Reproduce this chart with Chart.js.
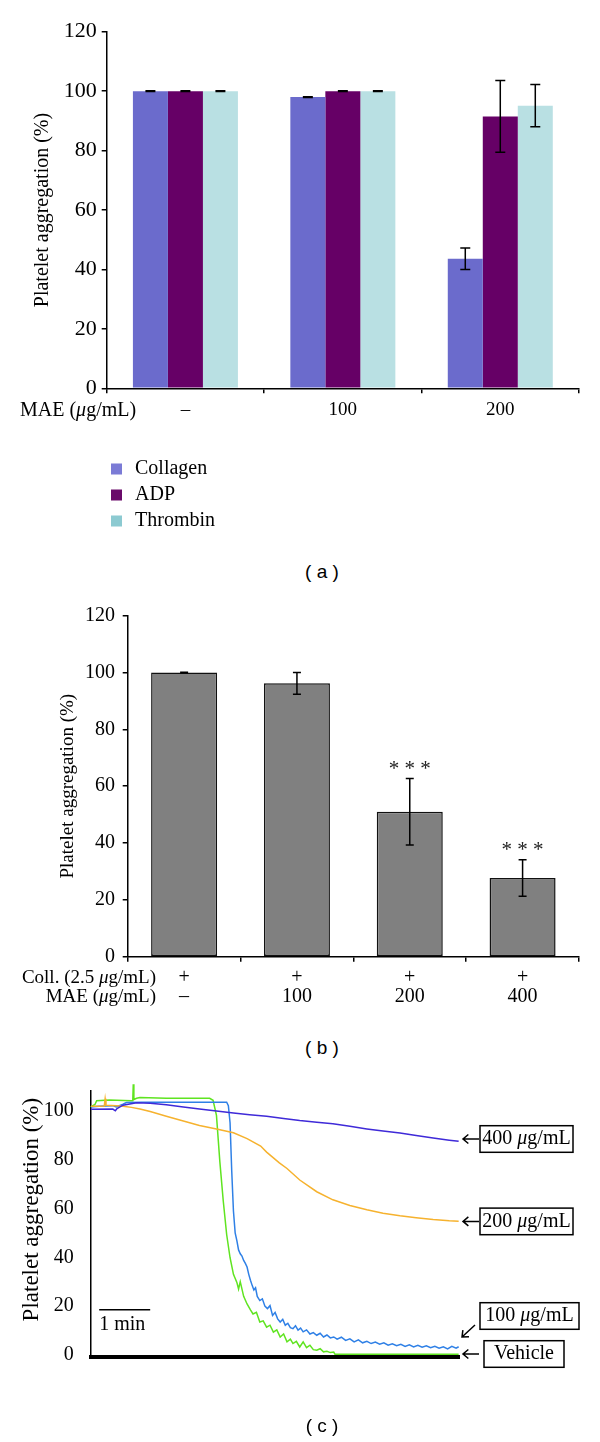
<!DOCTYPE html>
<html>
<head>
<meta charset="utf-8">
<script src="https://cdn.jsdelivr.net/npm/chart.js@4.4.0/dist/chart.umd.min.js"></script>
<style>
  body { margin: 0; background: #fff; }
  #page { position: relative; width: 600px; height: 1442px; overflow: hidden; }
  canvas { position: absolute; left: 0; }
  .panel { position: absolute; left: 272px; width: 100px; text-align: center;
           font: 19px 'Liberation Sans', Arial, sans-serif; line-height: 20px; color: #000; }
</style>
</head>
<body>
<div id="page">
  <canvas id="chartA" width="600" height="545" style="top:0"></canvas>
  <canvas id="chartB" width="600" height="420" style="top:590px"></canvas>
  <canvas id="chartC" width="600" height="372" style="top:1070px"></canvas>
  <div class="panel" style="top:562px">( a )</div>
  <div class="panel" style="top:1038px">( b )</div>
  <div class="panel" style="top:1416px">( c )</div>
</div>
<script>
const SERIF = "'Liberation Serif', 'Times New Roman', serif";

// (a) agonists vs MAE dose
const doseA = ['\u2013', '100', '200'];
const collagen = [100, 98.0, 43.6];
const collagenErr = [0.15, 0.15, 3.6];
const adp = [100, 100, 91.5];
const adpErr = [0.15, 0.15, 12.1];
const thrombin = [100, 100, 95.1];
const thrombinErr = [0.15, 0.15, 7.1];
const yTicksAB = [0, 20, 40, 60, 80, 100, 120];

// (b) collagen + MAE
const collRow = ['+', '+', '+', '+'];
const doseB = ['\u2013', '100', '200', '400'];
const aggB = [100, 96.2, 51.0, 27.7];
const aggBErr = [0.1, 3.8, 11.7, 6.4];
const starsB = ['', '', '***', '***'];

// (c) aggregation traces, time in seconds
const t400 = [0, 26, 29, 31, 38, 54, 70, 89, 109, 128, 148, 168, 187, 207, 227, 246, 266, 285, 305, 325, 344, 364, 383, 403, 422, 433];
const v400 = [100.5, 100.6, 99.9, 100.8, 102.2, 103.2, 103.0, 102.4, 101.5, 100.6, 99.8, 99.0, 98.3, 97.7, 96.8, 95.9, 95.2, 94.6, 93.6, 92.5, 91.6, 90.8, 89.8, 88.8, 87.9, 87.4];

const t200 = [0, 10, 16, 17, 18, 30, 38, 48, 58, 70, 89, 109, 128, 148, 168, 184, 200, 207, 222, 231, 246, 266, 285, 305, 325, 344, 364, 383, 403, 422, 433];
const v200 = [101.8, 101.8, 101.9, 104.8, 102.2, 102.0, 101.8, 101.3, 100.6, 99.6, 97.7, 95.7, 93.9, 92.5, 90.9, 88.5, 85.5, 83.0, 78.6, 76.3, 71.6, 66.8, 63.5, 61.2, 59.4, 58.0, 57.0, 56.2, 55.4, 54.9, 54.7];

const t100 = [0, 10, 26, 30, 38, 42, 60, 100, 160, 162, 164, 166, 168, 170, 172, 174, 176, 178, 180, 182, 184, 186, 188, 190, 192, 194, 196, 199, 202, 205, 208, 211, 214, 217, 220, 223, 226, 229, 232, 235, 238, 241, 244, 247, 250, 254, 258, 262, 266, 270, 274, 278, 282, 286, 290, 295, 300, 305, 310, 315, 320, 325, 330, 335, 340, 345, 350, 355, 360, 365, 370, 375, 380, 385, 390, 395, 400, 405, 410, 415, 420, 425, 430, 433];
const v100 = [101.5, 101.8, 102.0, 101.5, 102.6, 103.3, 103.4, 103.4, 103.4, 102.0, 95.0, 75.0, 58.8, 50.0, 46.8, 43.0, 41.4, 40.5, 38.7, 37.5, 36.0, 33.0, 30.6, 28.5, 26.6, 27.5, 24.0, 22.3, 23.0, 20.0, 19.0, 20.2, 16.2, 17.4, 14.8, 13.5, 14.6, 12.2, 13.0, 11.2, 10.8, 12.0, 10.2, 11.0, 9.5, 10.3, 8.6, 9.2, 8.1, 8.9, 7.4, 8.2, 7.0, 7.4, 6.5, 7.3, 6.0, 6.6, 5.4, 6.2, 5.0, 5.6, 4.7, 5.3, 4.4, 5.0, 4.0, 4.6, 3.8, 4.4, 3.5, 4.2, 3.3, 4.0, 3.2, 3.8, 3.0, 3.6, 2.8, 3.4, 2.5, 3.6, 2.8, 3.4];

const tVeh = [0, 5, 7, 22, 48, 49.5, 50.1, 50.8, 54, 58, 89, 140, 144, 148, 152, 156, 160, 164, 168, 172, 174, 176, 180, 184, 188, 191, 195, 199, 203, 207, 211, 215, 219, 223, 227, 231, 235, 238, 242, 246, 250, 254, 258, 262, 266, 270, 274, 278, 282, 286, 287.5, 300, 433];
const vVeh = [101.5, 102.5, 104.0, 104.3, 104.0, 104.0, 110.8, 104.5, 105.0, 105.3, 105.0, 105.0, 104.2, 98.0, 79.0, 63.0, 49.3, 39.8, 33.0, 29.7, 27.0, 30.0, 24.0, 20.9, 18.5, 16.8, 17.5, 13.5, 14.0, 11.4, 12.2, 9.4, 10.3, 7.4, 8.6, 5.4, 6.5, 4.7, 5.6, 3.3, 5.4, 3.0, 4.0, 2.2, 2.0, 2.6, 1.3, 1.5, 1.0, 1.2, 0.3, 0.3, 0.3];
const yTicksC = [0, 20, 40, 60, 80, 100];

const pairs = (ts, vs) => ts.map((t, i) => ({x: t, y: vs[i]}));

// text with an italic mu
function richText(ctx, parts, x, y, align, size) {
  const fonts = parts.map(p => (p.i ? 'italic ' : '') + size + 'px ' + SERIF);
  let w = 0;
  parts.forEach((p, k) => { ctx.font = fonts[k]; w += ctx.measureText(p.t).width; });
  let cx = align === 'right' ? x - w : align === 'center' ? x - w / 2 : x;
  ctx.textAlign = 'left';
  ctx.textBaseline = 'middle';
  ctx.fillStyle = '#000';
  parts.forEach((p, k) => {
    ctx.font = fonts[k];
    ctx.fillText(p.t, cx, y);
    cx += ctx.measureText(p.t).width;
  });
}
const mu = (pre, post) => [{t: pre}, {t: '\u03bc', i: true}, {t: post}];

function errorBars(errs, cap) {
  return {
    id: 'errorBars',
    afterDatasetsDraw(chart) {
      const {ctx, scales: {y}} = chart;
      ctx.save();
      ctx.strokeStyle = '#000';
      ctx.lineWidth = 1.5;
      chart.data.datasets.forEach((ds, i) => {
        chart.getDatasetMeta(i).data.forEach((bar, j) => {
          const hi = y.getPixelForValue(ds.data[j] + errs[i][j]);
          const lo = y.getPixelForValue(ds.data[j] - errs[i][j]);
          ctx.beginPath();
          ctx.moveTo(bar.x, hi); ctx.lineTo(bar.x, lo);
          ctx.moveTo(bar.x - cap / 2, hi); ctx.lineTo(bar.x + cap / 2, hi);
          ctx.moveTo(bar.x - cap / 2, lo); ctx.lineTo(bar.x + cap / 2, lo);
          ctx.stroke();
        });
      });
      ctx.restore();
    }
  };
}

const axisGrid = {drawOnChartArea: false, color: '#000', lineWidth: 1.5, tickLength: 5};
const axisBorder = {color: '#000', width: 1.5};
const yTitle = size => ({display: true, text: 'Platelet aggregation (%)', color: '#000', padding: 0,
                         font: {family: SERIF, size: size}});

// ---------- (a) ----------
const legendColorsA = ['#7b7bd6', '#6a0a6a', '#8ccad1'];
const extrasA = {
  id: 'extrasA',
  afterDraw(chart) {
    const ctx = chart.ctx;
    richText(ctx, mu('MAE (', 'g/mL)'), 20, chart.scales.x.top + 22, 'left', 20);
    chart.data.datasets.forEach((ds, i) => {
      const y = 469 + i * 26;
      ctx.fillStyle = legendColorsA[i];
      ctx.fillRect(111, y - 5.5, 11, 11);
      richText(ctx, [{t: ds.label}], 135, y, 'left', 20);
    });
  }
};

new Chart(document.getElementById('chartA'), {
  type: 'bar',
  data: {
    labels: doseA,
    datasets: [
      {label: 'Collagen', data: collagen, backgroundColor: '#6b6bcc'},
      {label: 'ADP', data: adp, backgroundColor: '#660066'},
      {label: 'Thrombin', data: thrombin, backgroundColor: '#b9e0e3'}
    ]
  },
  options: {
    responsive: false,
    animation: false,
    layout: {padding: {left: 31, right: 21, top: 31.7, bottom: 0}},
    datasets: {bar: {categoryPercentage: 0.667, barPercentage: 1}},
    plugins: {legend: {display: false}, tooltip: {enabled: false}},
    scales: {
      x: {
        grid: axisGrid,
        border: axisBorder,
        ticks: {color: '#000', padding: 5, font: {family: SERIF, size: 19}},
        afterFit: s => { s.height = 156.7; }
      },
      y: {
        min: 0, max: 120,
        afterBuildTicks: s => { s.ticks = yTicksAB.map(v => ({value: v})); },
        grid: axisGrid,
        border: axisBorder,
        ticks: {color: '#000', padding: 5, font: {family: SERIF, size: 22}},
        title: yTitle(20),
        afterFit: s => { s.width = 75.7; }
      }
    }
  },
  plugins: [errorBars([collagenErr, adpErr, thrombinErr], 10), extrasA]
});

// ---------- (b) ----------
const extrasB = {
  id: 'extrasB',
  afterDatasetsDraw(chart) {
    const {ctx, scales: {x, y}} = chart;
    const meta = chart.getDatasetMeta(0);
    starsB.forEach((s, j) => {
      if (!s) return;
      ctx.font = '21px ' + SERIF;
      ctx.textAlign = 'center';
      ctx.textBaseline = 'middle';
      ctx.fillStyle = '#222';
      ctx.fillText(s.split('').join(' '), meta.data[j].x, y.getPixelForValue(aggB[j] + aggBErr[j]) - 9);
    });
    const row1 = x.top + 5 + 6.8 + 9.5;
    richText(ctx, mu('Coll. (2.5 ', 'g/mL)'), 156, row1, 'right', 19);
    richText(ctx, mu('MAE (', 'g/mL)'), 156, row1 + 19, 'right', 19);
  }
};

new Chart(document.getElementById('chartB'), {
  type: 'bar',
  data: {
    labels: doseB.map((d, i) => [collRow[i], d]),
    datasets: [
      {label: 'Platelet aggregation', data: aggB, backgroundColor: '#808080',
       borderColor: '#111', borderWidth: 1.5, borderSkipped: false}
    ]
  },
  options: {
    responsive: false,
    animation: false,
    layout: {padding: {left: 56.6, right: 21, top: 25.7, bottom: 0}},
    datasets: {bar: {categoryPercentage: 0.585, barPercentage: 1}},
    plugins: {legend: {display: false}, tooltip: {enabled: false}},
    scales: {
      x: {
        grid: axisGrid,
        border: axisBorder,
        ticks: {color: '#000', padding: 6.8, font: {family: SERIF, size: 20, lineHeight: 0.95}},
        afterFit: s => { s.height = 53.3; }
      },
      y: {
        min: 0, max: 120,
        afterBuildTicks: s => { s.ticks = yTicksAB.map(v => ({value: v})); },
        grid: axisGrid,
        border: axisBorder,
        ticks: {color: '#000', padding: 7.7, font: {family: SERIF, size: 20}},
        title: yTitle(19),
        afterFit: s => { s.width = 71.1; }
      }
    }
  },
  plugins: [errorBars([aggBErr], 8), extrasB]
});

// ---------- (c) ----------
const boxesC = [
  {parts: mu('400 ', 'g/mL'), left: 480, cy: 69, w: 93, arrow: [479, 69, 463, 69]},
  {parts: mu('200 ', 'g/mL'), left: 480, cy: 151.4, w: 93, arrow: [479, 151.4, 463, 151.4]},
  {parts: mu('100 ', 'g/mL'), left: 480, cy: 246, w: 99, arrow: [475, 255, 462, 267]},
  {parts: [{t: 'Vehicle'}], left: 484, cy: 284, w: 80, arrow: [479, 284, 463, 284]}
];

const notesC = {
  id: 'notesC',
  afterDraw(chart) {
    const {ctx, scales: {x, y}} = chart;
    ctx.save();
    ctx.strokeStyle = '#000';
    ctx.lineWidth = 1.5;
    // 1 min scale bar
    ctx.beginPath();
    ctx.moveTo(x.getPixelForValue(10), y.getPixelForValue(18.5));
    ctx.lineTo(x.getPixelForValue(70), y.getPixelForValue(18.5));
    ctx.stroke();
    richText(ctx, [{t: '1 min'}], x.getPixelForValue(10), y.getPixelForValue(12.2), 'left', 20);
    boxesC.forEach(b => {
      ctx.strokeRect(b.left, b.cy - 13.3, b.w, 26.6);
      richText(ctx, b.parts, b.left + b.w / 2, b.cy, 'center', 20);
      const [x1, y1, x2, y2] = b.arrow;
      const ang = Math.atan2(y2 - y1, x2 - x1);
      ctx.beginPath();
      ctx.moveTo(x1, y1); ctx.lineTo(x2, y2);
      ctx.moveTo(x2 - 7 * Math.cos(ang - 0.7), y2 - 7 * Math.sin(ang - 0.7));
      ctx.lineTo(x2, y2);
      ctx.lineTo(x2 - 7 * Math.cos(ang + 0.7), y2 - 7 * Math.sin(ang + 0.7));
      ctx.stroke();
    });
    ctx.restore();
  }
};

new Chart(document.getElementById('chartC'), {
  type: 'line',
  data: {
    datasets: [
      {label: '400 \u03bcg/mL', data: pairs(t400, v400), borderColor: '#3f2ad8'},
      {label: '200 \u03bcg/mL', data: pairs(t200, v200), borderColor: '#f6b22e'},
      {label: '100 \u03bcg/mL', data: pairs(t100, v100), borderColor: '#2f80e6'},
      {label: 'Vehicle', data: pairs(tVeh, vVeh), borderColor: '#5fe420', clip: false}
    ]
  },
  options: {
    responsive: false,
    animation: false,
    layout: {padding: {left: 18, right: 140.5, top: 18.3, bottom: 85}},
    elements: {point: {radius: 0}, line: {borderWidth: 1.5, tension: 0}},
    plugins: {legend: {display: false}, tooltip: {enabled: false}},
    scales: {
      x: {
        type: 'linear', min: 0, max: 434,
        grid: {display: false},
        ticks: {display: false},
        border: {color: '#000', width: 4},
        afterFit: s => { s.height = 0; }
      },
      y: {
        min: -0.8, max: 108,
        afterBuildTicks: s => { s.ticks = yTicksC.map(v => ({value: v})); },
        grid: {display: false},
        border: axisBorder,
        ticks: {color: '#000', padding: 9, font: {family: SERIF, size: 20}},
        title: Object.assign(yTitle(23), {text: '     Platelet aggregation (%)'}),
        afterFit: s => { s.width = 72.7; }
      }
    }
  },
  plugins: [notesC]
});
</script>
</body>
</html>
